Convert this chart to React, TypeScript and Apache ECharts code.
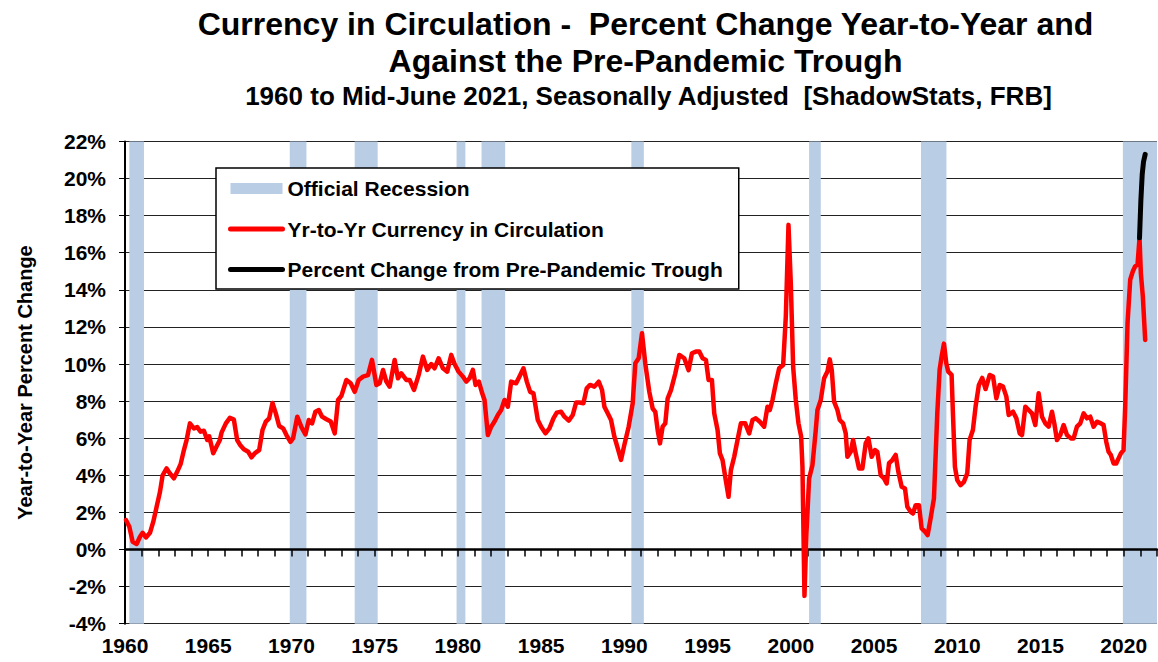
import React, { useEffect, useRef } from "react";
import * as echarts from "echarts";

const FONT = "'Liberation Sans', Arial, Helvetica, sans-serif";

const titleLines = [
  "Currency in Circulation -  Percent Change Year-to-Year and",
  "Against the Pre-Pandemic Trough",
];
const subtitle = "1960 to Mid-June 2021, Seasonally Adjusted  [ShadowStats, FRB]";
const yAxisName = "Year-to-Year Percent Change";
const seriesNames = [
  "Official Recession",
  "Yr-to-Yr Currency in Circulation",
  "Percent Change from Pre-Pandemic Trough",
];

// recession periods [start, end] in fractional years
const recessions: [number, number][] = [
  [1960.26, 1961.14],
  [1969.9, 1970.9],
  [1973.8, 1975.18],
  [1979.92, 1980.45],
  [1981.42, 1982.84],
  [1990.42, 1991.17],
  [2001.1, 2001.8],
  [2007.82, 2009.35],
  [2019.95, 2022],
];

// year-to-year percent change in currency in circulation [year, %]
const yoyPoints: [number, number][] = [
  [1960.06,1.59],[1960.26,1.23],[1960.46,0.42],[1960.7,0.3],[1960.9,0.69],[1961.06,0.9],[1961.26,0.65],[1961.5,0.9],[1961.7,1.5],[1961.9,2.3],
  [1962.1,3.1],[1962.26,4.0],[1962.5,4.37],[1962.7,4.1],[1962.94,3.84],[1963.14,4.2],[1963.34,4.6],[1963.54,5.36],[1963.7,5.9],[1963.9,6.8],
  [1964.14,6.53],[1964.34,6.6],[1964.54,6.35],[1964.74,6.4],[1964.94,5.9],[1965.06,6.1],[1965.3,5.19],[1965.5,5.55],[1965.7,5.9],[1965.8,6.3],
  [1966.06,6.8],[1966.3,7.1],[1966.54,7.0],[1966.74,5.9],[1966.94,5.6],[1967.14,5.4],[1967.4,5.27],[1967.6,4.97],[1967.8,5.19],[1968.06,5.36],
  [1968.26,6.44],[1968.46,6.89],[1968.66,7.07],[1968.86,7.9],[1969.06,7.34],[1969.26,6.66],[1969.5,6.53],[1969.7,6.17],[1969.94,5.8],[1970.1,6.0],
  [1970.35,7.16],[1970.6,6.6],[1970.84,6.2],[1971.04,6.98],[1971.24,6.8],[1971.44,7.43],[1971.64,7.52],[1971.84,7.16],[1972.1,7.02],[1972.36,6.9],
  [1972.6,6.26],[1972.8,8.06],[1973.0,8.28],[1973.3,9.14],[1973.56,8.96],[1973.8,8.5],[1974.04,9.14],[1974.3,9.32],[1974.6,9.4],[1974.84,10.22],
  [1975.1,8.87],[1975.3,8.96],[1975.5,9.68],[1975.7,9.05],[1975.9,8.78],[1976.2,10.22],[1976.4,9.23],[1976.6,9.5],[1976.9,9.14],[1977.1,9.14],
  [1977.36,8.6],[1977.64,9.4],[1977.9,10.4],[1978.16,9.68],[1978.4,10.0],[1978.6,9.77],[1978.84,10.31],[1979.1,9.77],[1979.36,9.59],[1979.6,10.49],
  [1979.8,10.0],[1980.04,9.59],[1980.3,9.32],[1980.5,9.05],[1980.7,9.23],[1980.9,9.68],[1981.06,8.87],[1981.26,9.05],[1981.46,8.42],[1981.6,8.06],
  [1981.8,6.17],[1982.0,6.62],[1982.2,6.9],[1982.4,7.25],[1982.6,7.52],[1982.8,8.06],[1983.0,7.7],[1983.2,9.05],[1983.5,8.96],[1983.7,9.32],
  [1983.94,9.77],[1984.14,9.05],[1984.34,8.5],[1984.54,8.42],[1984.8,6.98],[1985.0,6.62],[1985.26,6.26],[1985.5,6.53],[1985.74,7.07],[1985.94,7.38],
  [1986.2,7.43],[1986.4,7.16],[1986.66,6.95],[1986.9,7.25],[1987.1,7.92],[1987.3,7.92],[1987.54,7.88],[1987.74,8.69],[1987.94,8.87],[1988.2,8.78],
  [1988.46,9.05],[1988.66,8.6],[1988.8,7.7],[1989.0,7.34],[1989.2,6.98],[1989.4,6.08],[1989.6,5.46],[1989.8,4.83],[1990.0,5.64],[1990.26,6.62],
  [1990.5,7.88],[1990.66,10.04],[1990.86,10.31],[1991.06,11.66],[1991.26,10.0],[1991.5,8.5],[1991.7,7.6],[1991.86,7.42],[1992.0,6.44],[1992.14,5.72],
  [1992.3,6.62],[1992.46,6.8],[1992.6,8.14],[1992.8,8.59],[1993.06,9.49],[1993.3,10.49],[1993.6,10.31],[1993.86,9.67],[1994.06,10.58],[1994.3,10.67],
  [1994.5,10.67],[1994.7,10.31],[1994.9,10.22],[1995.06,9.14],[1995.26,9.14],[1995.4,7.34],[1995.6,6.44],[1995.74,5.18],[1995.9,4.82],[1996.06,3.92],
  [1996.26,2.84],[1996.4,4.28],[1996.6,5.0],[1996.8,5.9],[1997.0,6.8],[1997.26,6.8],[1997.5,6.26],[1997.7,6.98],[1997.9,7.07],[1998.14,6.89],
  [1998.4,6.62],[1998.6,7.7],[1998.74,7.52],[1998.9,8.06],[1999.1,8.96],[1999.3,9.77],[1999.54,9.95],[1999.7,12.56],[1999.86,17.5],[2000.0,14.35],
  [2000.14,9.85],[2000.3,8.06],[2000.46,6.8],[2000.62,6.1],[2000.7,4.46],[2000.82,-2.5],[2000.94,0.86],[2001.1,3.83],[2001.3,4.55],[2001.5,6.44],
  [2001.6,7.52],[2001.8,8.06],[2002.0,9.23],[2002.2,9.59],[2002.34,10.25],[2002.46,9.68],[2002.6,7.97],[2002.8,7.52],[2002.94,6.98],[2003.14,6.8],
  [2003.3,6.26],[2003.4,5.0],[2003.6,5.27],[2003.74,5.9],[2003.9,5.18],[2004.1,4.37],[2004.3,4.37],[2004.5,5.72],[2004.66,5.99],[2004.86,5.0],
  [2005.06,5.36],[2005.2,5.27],[2005.4,4.01],[2005.6,3.83],[2005.76,3.56],[2005.9,4.65],[2006.1,4.82],[2006.3,5.1],[2006.46,4.19],[2006.66,3.38],
  [2006.86,3.29],[2007.0,2.3],[2007.2,2.03],[2007.34,1.94],[2007.5,2.39],[2007.7,2.39],[2007.86,1.14],[2008.06,0.96],[2008.22,0.78],[2008.4,1.68],
  [2008.6,2.76],[2008.8,7.34],[2008.94,9.68],[2009.06,10.4],[2009.2,11.1],[2009.34,10.04],[2009.46,9.59],[2009.66,9.41],[2009.74,7.34],[2009.86,4.46],
  [2010.0,3.74],[2010.2,3.47],[2010.4,3.65],[2010.6,4.1],[2010.74,5.9],[2010.94,6.44],[2011.1,7.7],[2011.3,8.87],[2011.5,9.25],[2011.7,8.65],
  [2011.95,9.41],[2012.15,9.32],[2012.35,8.15],[2012.55,8.87],[2012.75,8.78],[2012.95,8.24],[2013.09,7.25],[2013.35,7.43],[2013.55,7.07],[2013.75,6.26],
  [2013.89,6.17],[2014.09,7.7],[2014.29,7.52],[2014.49,7.34],[2014.69,6.71],[2014.89,8.42],[2015.09,7.16],[2015.29,6.8],[2015.49,6.62],[2015.69,7.43],
  [2015.83,6.8],[2015.99,5.9],[2016.19,6.17],[2016.39,6.71],[2016.59,6.17],[2016.83,5.99],[2016.99,5.99],[2017.19,6.62],[2017.39,6.8],[2017.59,7.34],
  [2017.79,7.07],[2017.99,7.16],[2018.19,6.62],[2018.39,6.89],[2018.63,6.8],[2018.79,6.71],[2018.95,5.81],[2019.09,5.27],[2019.23,5.09],[2019.39,4.64],
  [2019.55,4.64],[2019.69,4.91],[2019.83,5.18],[2019.99,5.36],[2020.09,7.7],[2020.23,12.2],[2020.39,14.54],[2020.55,15.0],[2020.69,15.27],[2020.83,15.36],
  [2020.95,16.8],[2021.03,14.9],[2021.15,13.63],[2021.29,11.3],
];

// percent change from pre-pandemic trough [year, %]
const troughPoints: [number, number][] = [
  [2020.95,16.8],[2021.03,18.8],[2021.11,20.2],[2021.19,20.9],[2021.29,21.3],
];

const xMin = 1960;
const xMax = 2022;
const yMin = -4;
const yMax = 22;

export default function App() {
  const ref = useRef<HTMLDivElement>(null);
  useEffect(() => {
    if (!ref.current) return;
    const chart = echarts.init(ref.current, undefined, { renderer: "svg" });
    const bold = { fontFamily: FONT, fontWeight: "bold" as const, color: "#000" };
    const hiddenSymbol = { color: "rgba(0,0,0,0)", borderWidth: 0, opacity: 0 };
    chart.setOption({
      animation: false,
      backgroundColor: "#fff",
      title: [
        {
          text: titleLines.join("\n"),
          left: 645.5,
          top: 5,
          padding: 0,
          textAlign: "center",
          textStyle: { ...bold, fontSize: 32, lineHeight: 37.5 },
        },
        {
          text: subtitle,
          left: 648.5,
          top: 83,
          padding: 0,
          textAlign: "center",
          textStyle: { ...bold, fontSize: 26, lineHeight: 26 },
        },
      ],
      legend: {
        orient: "vertical",
        left: 216,
        top: 168,
        padding: [10, 16, 9, 12],
        itemGap: 19.5,
        itemWidth: 52,
        itemHeight: 11,
        backgroundColor: "#fff",
        borderColor: "#000",
        borderWidth: 1.5,
        selectedMode: false,
        textStyle: { ...bold, fontSize: 21 },
        data: [
          { name: seriesNames[0], icon: "rect", itemStyle: { color: "#b9cde5" } },
          { name: seriesNames[1], itemStyle: hiddenSymbol, lineStyle: { width: 5 } },
          { name: seriesNames[2], itemStyle: hiddenSymbol, lineStyle: { width: 5 } },
        ],
      },
      grid: { left: 125, right: 1, top: 141.4, bottom: 38.3, containLabel: false },
      xAxis: [
        {
          type: "value",
          min: xMin,
          max: xMax,
          interval: 5,
          position: "bottom",
          axisLine: { show: false, onZero: false },
          axisTick: { show: false },
          splitLine: { show: false },
          axisLabel: {
            ...bold,
            fontSize: 21,
            margin: 11,
            showMaxLabel: false,
            formatter: (v: number) => (v % 5 === 0 ? String(v) : ""),
          },
        },
        {
          type: "value",
          min: xMin,
          max: xMax,
          interval: 1,
          position: "top",
          z: 3,
          axisLine: { show: true, onZero: true, lineStyle: { color: "#000", width: 2.5 } },
          axisTick: { show: true, inside: true, length: 7, lineStyle: { color: "#000", width: 1.5 } },
          axisLabel: { show: false },
          splitLine: { show: false },
        },
      ],
      yAxis: {
        type: "value",
        min: yMin,
        max: yMax,
        interval: 2,
        name: yAxisName,
        nameLocation: "middle",
        nameGap: 90,
        nameTextStyle: { ...bold, fontSize: 20 },
        axisLine: { show: true, onZero: false, lineStyle: { color: "#000", width: 2 } },
        axisTick: { show: true, length: 6, lineStyle: { color: "#000", width: 1 } },
        axisLabel: { ...bold, fontSize: 21, margin: 19, formatter: (v: number) => v + "%" },
        splitLine: { show: true, lineStyle: { color: "#222", width: 1 } },
      },
      series: [
        {
          name: seriesNames[0],
          type: "line",
          data: [],
          z: 1,
          color: "#b9cde5",
          itemStyle: { color: "#b9cde5" },
          markArea: {
            silent: true,
            itemStyle: { color: "#b9cde5", opacity: 1 },
            data: recessions.map(([a, b]) => [{ xAxis: a }, { xAxis: b }]),
          },
        },
        {
          name: seriesNames[1],
          type: "line",
          data: yoyPoints,
          z: 4,
          symbol: "none",
          color: "#ff0000",
          lineStyle: { color: "#ff0000", width: 4.5, join: "round", cap: "round" },
        },
        {
          name: seriesNames[2],
          type: "line",
          data: troughPoints,
          z: 5,
          symbol: "none",
          color: "#000",
          lineStyle: { color: "#000", width: 5, join: "round", cap: "round" },
        },
      ],
    });
    return () => chart.dispose();
  }, []);
  return (
    <div
      ref={ref}
      style={{ position: "absolute", left: 0, top: 0, width: 1158, height: 662 }}
    />
  );
}
